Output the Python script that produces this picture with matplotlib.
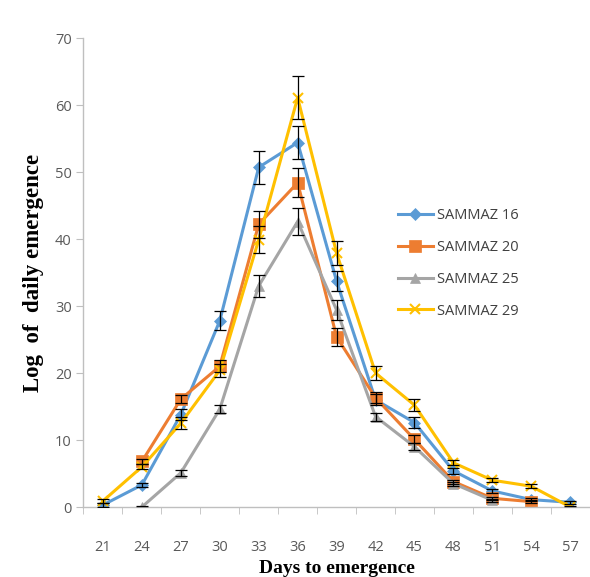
import numpy as np
import matplotlib
matplotlib.use("Agg")
import matplotlib.pyplot as plt

# Days to emergence (category axis)
days = [21, 24, 27, 30, 33, 36, 39, 42, 45, 48, 51, 54, 57]

nan = np.nan
sammaz16 = [0.3, 3.3, 13.8, 27.8, 50.7, 54.4, 33.7, 16.0, 12.6, 5.4, 2.4, 1.1, 0.7]
sammaz20 = [nan, 6.8, 16.1, 21.0, 42.2, 48.4, 25.4, 16.3, 10.1, 3.8, 1.3, 0.8, nan]
sammaz25 = [nan, 0.0, 5.1, 14.6, 33.0, 42.6, 29.4, 13.5, 9.0, 3.5, 1.0, nan, nan]
sammaz29 = [0.9, 6.0, 12.5, 20.4, 39.9, 61.1, 37.9, 20.0, 15.2, 6.6, 4.0, 3.1, 0.0]

err16 = [0.3, 0.3, 0.8, 1.4, 2.5, 2.5, 1.5, 0.8, 0.8, 0.4, 0.3, 0.2, 0.2]
err20 = [nan, 0.4, 0.6, 0.9, 2.0, 2.2, 1.3, 0.8, 0.6, 0.3, 0.2, 0.2, nan]
err25 = [nan, 0.1, 0.4, 0.6, 1.6, 2.0, 1.5, 0.6, 0.5, 0.3, 0.2, nan, nan]
err29 = [0.3, 0.4, 0.9, 1.0, 2.0, 3.2, 1.8, 1.0, 0.9, 0.4, 0.3, 0.3, 0.2]

labels = ["SAMMAZ 16", "SAMMAZ 20", "SAMMAZ 25", "SAMMAZ 29"]
colors = ["#5B9BD5", "#ED7D31", "#A5A5A5", "#FFC000"]
markers = ["D", "s", "^", "x"]
msizes = [6, 8, 7, 7]

fig = plt.figure(figsize=(5.9, 5.77), dpi=100)
ax = fig.add_axes([0.1415, 0.1213, 0.858, 0.8128])

x = np.arange(len(days))
series = [sammaz16, sammaz20, sammaz25, sammaz29]
errs = [err16, err20, err25, err29]
for vals, err, lab, col, mk, ms in zip(series, errs, labels, colors, markers, msizes):
    vals = np.array(vals, dtype=float)
    err = np.array(err, dtype=float)
    ax.errorbar(x, vals, yerr=err, fmt="none", ecolor="black", elinewidth=0.9,
                capsize=4, capthick=0.9, zorder=3)
    ax.plot(x, vals, color=col, lw=2.2, marker=mk, markersize=ms,
            markeredgewidth=1.5 if mk == "x" else 0.5, markeredgecolor=col,
            label=lab, zorder=2)

ax.set_xlim(-0.5, len(days) - 0.5)
ax.set_ylim(0, 70)
ax.set_yticks(range(0, 71, 10))
ax.set_xticks(x)
ax.set_xticklabels([str(d) for d in days])
ax.set_xticks(np.arange(-0.5, len(days), 1), minor=True)

for s in ["top", "right"]:
    ax.spines[s].set_visible(False)
for s in ["left", "bottom"]:
    ax.spines[s].set_color("#BFBFBF")
    ax.spines[s].set_linewidth(1.0)

ax.tick_params(axis="y", colors="#595959", labelsize=10.5, length=5, color="#BFBFBF")
ax.tick_params(axis="x", which="major", length=0, pad=24, colors="#595959", labelsize=10.5)
ax.tick_params(axis="x", which="minor", length=5, color="#BFBFBF")
for t in ax.get_xticklabels() + ax.get_yticklabels():
    t.set_fontfamily("Open Sans")

ax.set_xlabel("Days to emergence", fontfamily="Liberation Serif", fontweight="bold",
              fontsize=14, labelpad=3)
ax.set_ylabel("Log  of  daily emergence", fontfamily="Liberation Serif", fontweight="bold",
              fontsize=16.5, labelpad=8)

leg = ax.legend(loc="upper left", bbox_to_anchor=(0.595, 0.665), frameon=False,
                prop={"family": "Open Sans", "size": 10.5}, handlelength=2.4,
                handletextpad=0.3, labelspacing=1.15)
for t in leg.get_texts():
    t.set_color("#404040")

fig.savefig("out.png", dpi=100)
